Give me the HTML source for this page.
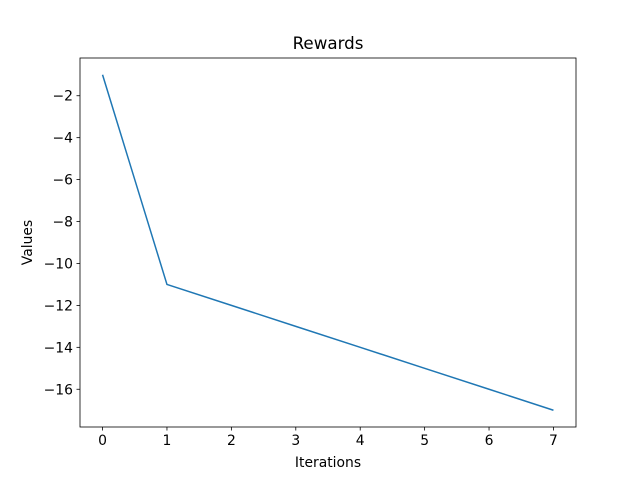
<!DOCTYPE html>
<html><head><meta charset="utf-8"><style>
body{margin:0;background:#fff}
svg text{font-family:"DejaVu Sans","Liberation Sans",sans-serif;fill:#000}
</style></head><body>
<svg id="chart" width="640" height="480">
<rect width="640" height="480" fill="#fff"/>
<text x="328" y="49" font-size="16.7" text-anchor="middle">Rewards</text>
<text x="328" y="467" font-size="13.9" text-anchor="middle">Iterations</text>
<text x="32" y="242.5" font-size="13.9" text-anchor="middle" transform="rotate(-90 32 242.5)">Values</text>
<g id="ticks"></g>
<path id="line" fill="none" stroke="#1f77b4" stroke-width="1.5"/>
<rect x="80" y="58" width="496" height="369" fill="none" stroke="#000" stroke-width="0.8"/>
</svg>
<script>
const iterations=[0,1,2,3,4,5,6,7];
const rewards=[-1,-11,-12,-13,-14,-15,-16,-17];
const xTicks=[0,1,2,3,4,5,6,7];
const yTicks=[-2,-4,-6,-8,-10,-12,-14,-16];
const L=80,R=576,T=58,B=427;
const xmin=-0.35,xmax=7.35;
const ymin=Math.min(...rewards),ymax=Math.max(...rewards),pad=(ymax-ymin)*0.05;
const y0=ymin-pad,y1=ymax+pad;
const sx=v=>L+(v-xmin)/(xmax-xmin)*(R-L);
const sy=v=>B-(v-y0)/(y1-y0)*(B-T);
const ns="http://www.w3.org/2000/svg";
const g=document.getElementById('ticks');
function mk(tag,attrs){const e=document.createElementNS(ns,tag);for(const k in attrs)e.setAttribute(k,attrs[k]);g.appendChild(e);return e;}
xTicks.forEach(t=>{
  const l=mk('line',{x1:sx(t),x2:sx(t),y1:B,y2:B+3.5,stroke:'#000','stroke-width':0.8});
  
  
  const tx=mk('text',{x:sx(t),y:B+18,'font-size':13.9,'text-anchor':'middle'});
  tx.textContent=t;
  
  
});
yTicks.forEach(t=>{
  const l=mk('line',{x1:L-3.5,x2:L,y1:sy(t),y2:sy(t),stroke:'#000','stroke-width':0.8});
  
  
  const tx=mk('text',{x:L-7,y:sy(t)+5,'font-size':13.9,'text-anchor':'end'});
  tx.textContent='\u2212'+Math.abs(t);
  
  
});
document.getElementById('line').setAttribute('d',iterations.map((x,i)=>(i?'L':'M')+sx(x)+','+sy(rewards[i])).join(''));
</script>
</body></html>
